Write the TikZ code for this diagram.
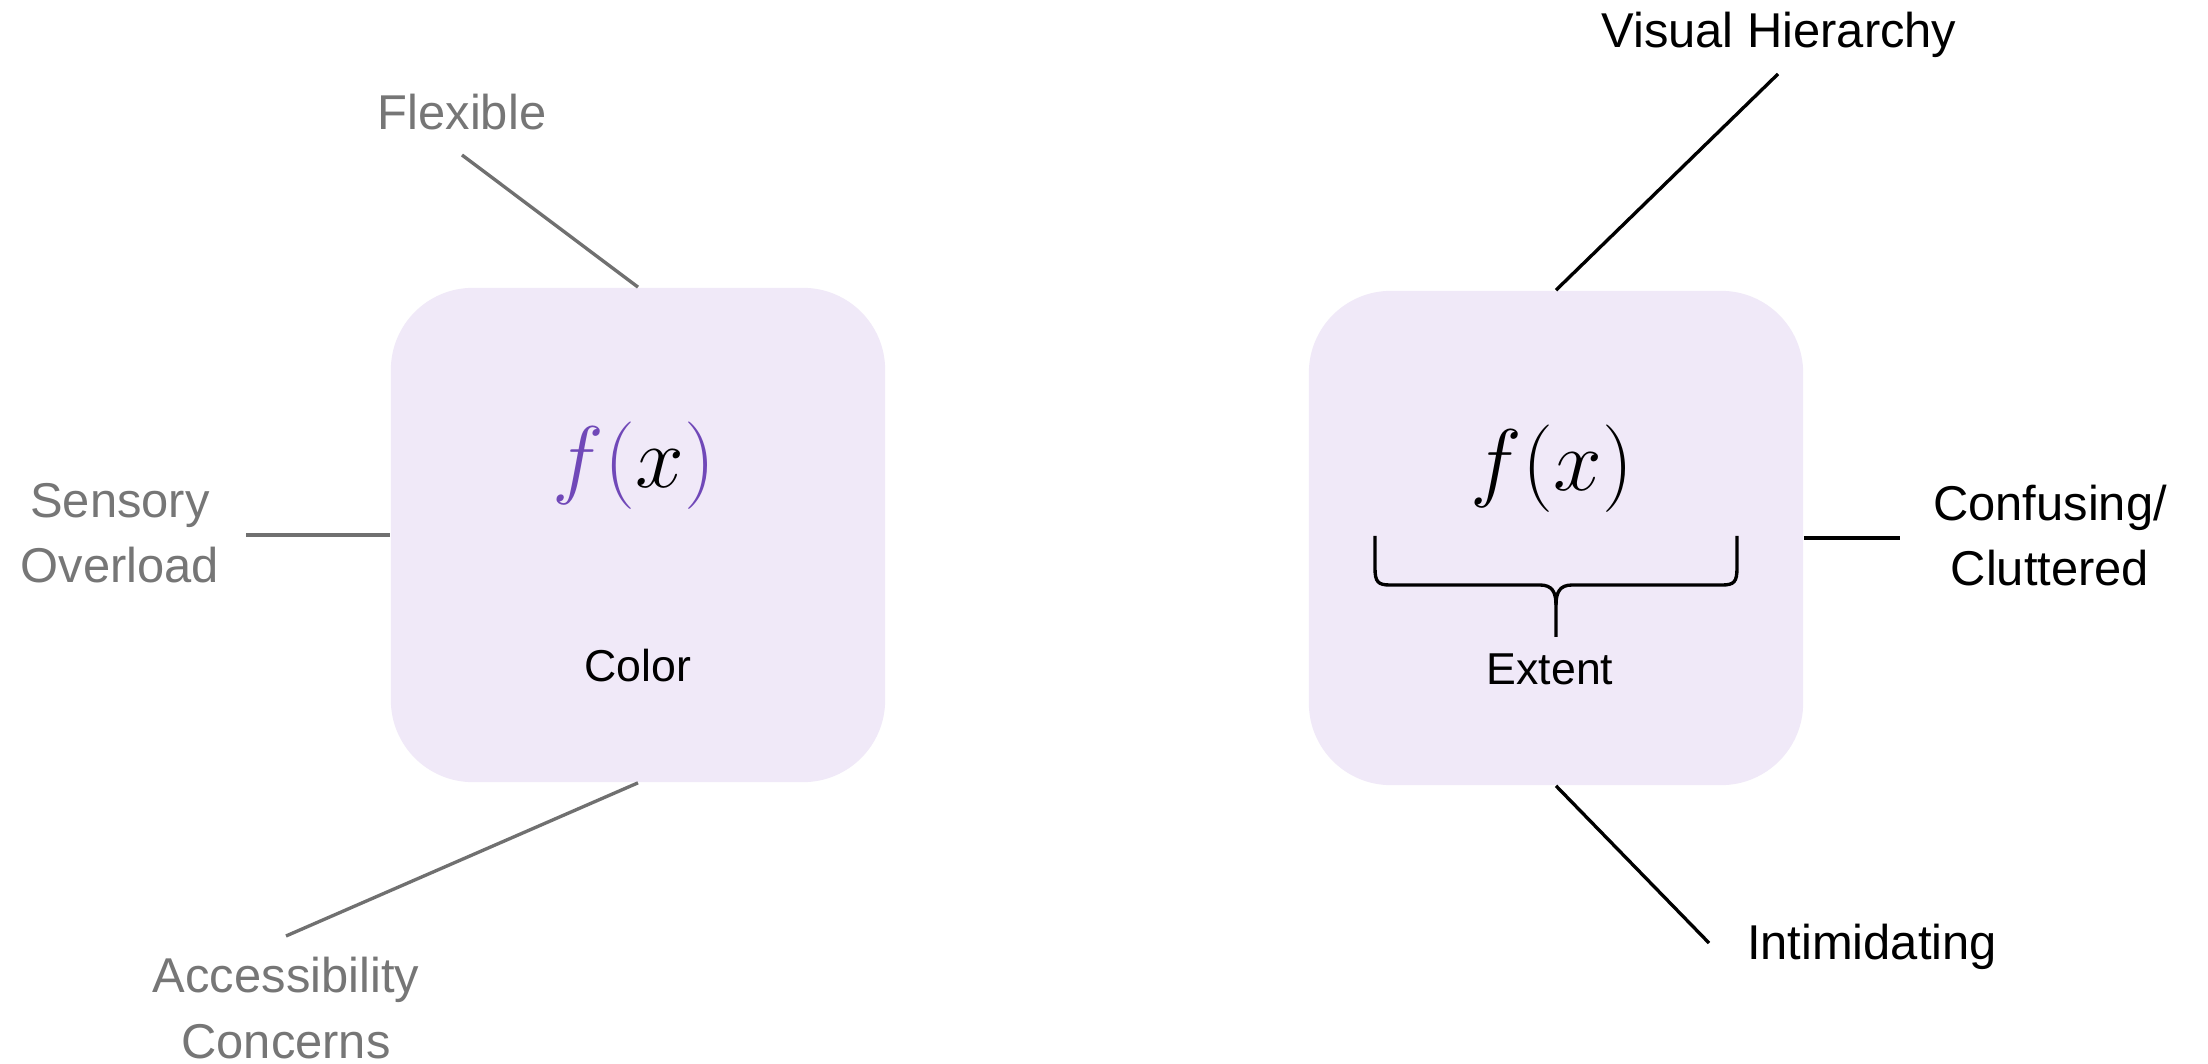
\documentclass[tikz,border=0pt]{standalone}
\usepackage{fontspec}
\setmainfont{Liberation Sans}
\definecolor{boxfill}{HTML}{F0E9F8}
\definecolor{fpurple}{HTML}{7048B8}
\definecolor{softgray}{HTML}{767676}
\definecolor{linegray}{HTML}{707070}
\begin{document}
\begin{tikzpicture}[x=0.01cm,y=-0.01cm,
  card/.style={fill=boxfill, draw=none, rounded corners=0.82cm, minimum width=4.94cm, minimum height=4.94cm, inner sep=0pt},
  graylabel/.style={text=softgray, font=\fontsize{13.9}{18.5}\selectfont, align=center, inner sep=0pt, anchor=base},
  blacklabel/.style={text=black, font=\fontsize{13.9}{18.5}\selectfont, align=center, inner sep=0pt, anchor=base},
  inlabel/.style={text=black, font=\fontsize{12.7}{16}\selectfont, inner sep=0pt, anchor=base},
  formula/.style={inner sep=0pt, font=\fontsize{24}{29}\selectfont},
  grayline/.style={draw=linegray, line width=0.95pt},
  blackline/.style={draw=black, line width=0.95pt},
  bracestroke/.style={draw=black, line width=0.95pt}]
\useasboundingbox (0,0) rectangle (2208,1064);
\fill[white] (0,0) rectangle (2208,1064);

% boxes
\node[card] (colorbox) at (638,535) {};
\node[card] (extentbox) at (1556,538) {};

% formulas
\node[formula] (f1) at (634,466) {${\color{fpurple}f(}x{\color{fpurple})}$};
\node[formula] (f2) at (1552,469) {$f(x)$};

% inner labels
\node[inlabel] (colortxt) at (638,682) {Color};
\node[inlabel] (extenttxt) at (1550,685) {Extent};

% brace
\draw[bracestroke] (1375,536) -- (1375,568) .. controls (1375,582) and (1378,585) .. (1390,585)
  -- (1540,585) .. controls (1552,585) and (1556,592) .. (1556,605) -- (1556,637);
\draw[bracestroke] (1737,536) -- (1737,568) .. controls (1737,582) and (1734,585) .. (1722,585)
  -- (1572,585) .. controls (1560,585) and (1556,592) .. (1556,605);

% left labels (base = baseline of last line)
\node[graylabel] (flex) at (462,130) {Flexible};
\node[graylabel] (sensory) at (120,583) {Sensory\\Overload};
\node[graylabel] (access) at (286,1058) {Accessibility\\Concerns};

% right labels
\node[blacklabel] (visual) at (1779,48) {Visual Hierarchy};
\node[blacklabel] (confusing) at (2050,586) {Confusing/\\Cluttered};
\node[blacklabel] (intim) at (1872,959) {Intimidating};

% connector free ends
\coordinate (flexend) at (462,155);
\coordinate (sensend) at (246,535);
\coordinate (accend) at (286,936);
\coordinate (visend) at (1778,74);
\coordinate (confend) at (1900,538);
\coordinate (intend) at (1709,943);

% connectors
\draw[grayline] (flexend) -- (colorbox.north);
\draw[grayline] (sensend) -- (colorbox.west);
\draw[grayline] (accend) -- (colorbox.south);
\draw[blackline] (visend) -- (extentbox.north);
\draw[blackline] (extentbox.east) -- (confend);
\draw[blackline] (extentbox.south) -- (intend);
\end{tikzpicture}
\end{document}
